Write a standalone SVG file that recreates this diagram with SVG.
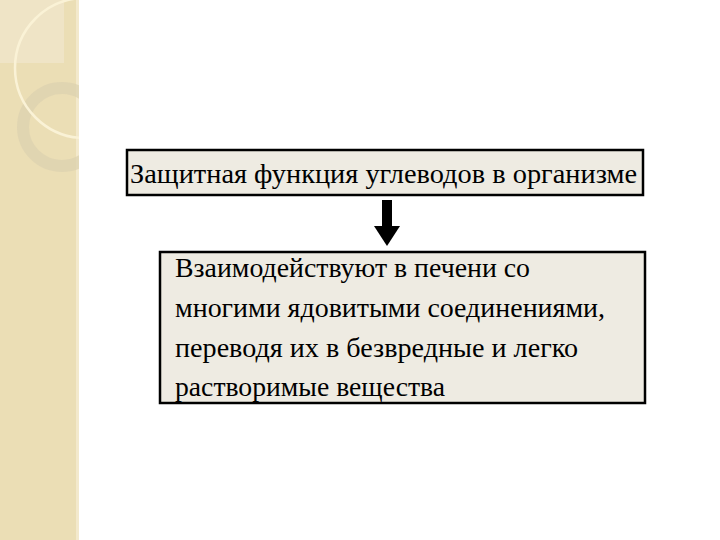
<svg xmlns="http://www.w3.org/2000/svg" width="720" height="540" viewBox="0 0 720 540">
<style>
.box{fill:#eeebe2;stroke:#000;stroke-width:2.5}
.t{font-family:"Liberation Serif","Times New Roman",serif;fill:#000;font-size:28px}
</style>
<defs>
<clipPath id="strip"><rect x="0" y="0" width="79" height="540"/></clipPath>
</defs>
<rect x="0" y="0" width="720" height="540" fill="#fff"/>
<g id="decor">
<rect x="0" y="0" width="79" height="540" fill="#ebdeb5"/>
<rect x="76" y="0" width="3" height="540" fill="#f3e9cc"/>
<rect x="0" y="0" width="64" height="63" fill="#efe4c6"/>
<g clip-path="url(#strip)">
<circle cx="62" cy="127" r="39" fill="none" stroke="#dcd2b0" stroke-width="12" opacity="0.75"/>
<circle cx="85" cy="68" r="70" fill="none" stroke="#faf2d6" stroke-width="2.5"/>
</g>
</g>
<g id="node1">
<rect class="box" x="127" y="150" width="516" height="45"/>
<text class="t" x="130" y="183" textLength="507" lengthAdjust="spacingAndGlyphs">Защитная функция углеводов в организме</text>
</g>
<g id="connectors">
<rect x="382" y="200" width="10" height="27" fill="#000"/>
<polygon points="374,226 400,226 387,246" fill="#000"/>
</g>
<g id="node2">
<rect class="box" x="160" y="252" width="485" height="151"/>
<text class="t" x="175" y="277" textLength="355" lengthAdjust="spacingAndGlyphs">Взаимодействуют в печени со</text>
<text class="t" x="175" y="317" textLength="430" lengthAdjust="spacingAndGlyphs">многими ядовитыми соединениями,</text>
<text class="t" x="175" y="357" textLength="403" lengthAdjust="spacingAndGlyphs">переводя их в безвредные и легко</text>
<text class="t" x="175" y="396" textLength="270" lengthAdjust="spacingAndGlyphs">растворимые вещества</text>
</g>
</svg>
